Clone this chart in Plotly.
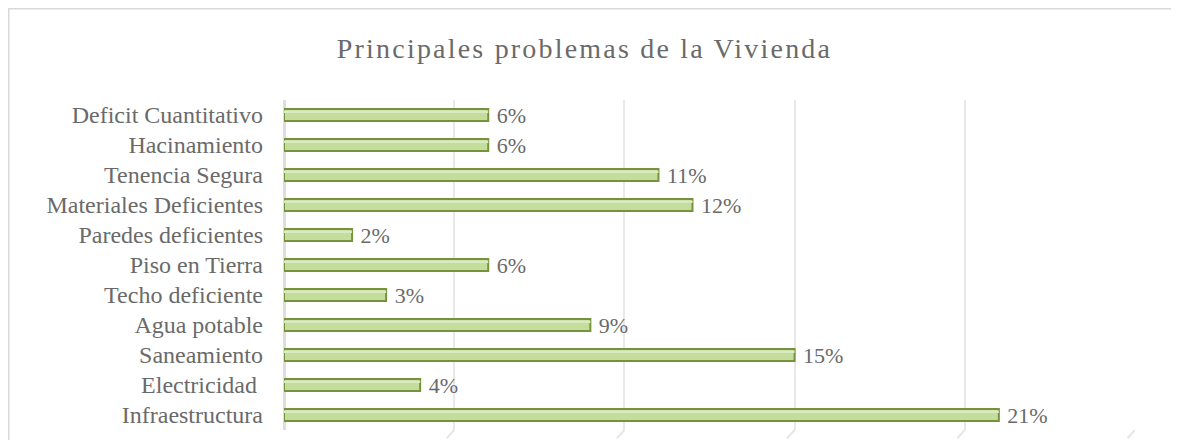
import plotly.graph_objects as go

categories = ["Deficit Cuantitativo", "Hacinamiento", "Tenencia Segura", "Materiales Deficientes",
              "Paredes deficientes", "Piso en Tierra", "Techo deficiente", "Agua potable",
              "Saneamiento", "Electricidad\u00a0", "Infraestructura"]
values = [6, 6, 11, 12, 2, 6, 3, 9, 15, 4, 21]
title_text = "Principales problemas de la Vivienda"
grid_values = [5, 10, 15, 20, 25]

font_family = "Liberation Serif, Times New Roman, serif"
grey = "#6a6a6a"

fig = go.Figure()
fig.add_trace(go.Bar(
    x=values, y=categories, orientation="h",
    marker=dict(color="#c4dd9c", line=dict(color="#76933c", width=2)),
    text=[f"\u00a0{v}%" for v in values], textposition="outside", constraintext="none",
    textfont=dict(family=font_family, size=22, color=grey),
    cliponaxis=False, width=0.4, offset=-0.2,
))
# lighter highlight stripe on the upper face of each bar
fig.add_trace(go.Bar(
    x=values, y=categories, orientation="h",
    marker=dict(color="#d9eac0", line=dict(width=0)),
    width=0.08, offset=0.07, hoverinfo="skip",
))

# short slanted "floor" ends of the gridlines (3D look)
floor = [dict(type="line", xref="x", yref="paper", x0=g, y0=0, x1=g - 0.22, y1=-0.025,
              line=dict(color="#e6e6e6", width=2)) for g in grid_values]

fig.update_layout(
    width=1171, height=432,
    margin=dict(l=276, r=44, t=92, b=10),
    paper_bgcolor="white", plot_bgcolor="white",
    showlegend=False, barmode="overlay",
    title=dict(text=title_text, x=0.5 - 9 / 1171, xref="container", y=1 - 40 / 432, yref="container",
               yanchor="middle", xanchor="center",
               font=dict(family=font_family, size=28, color=grey)),
    xaxis=dict(range=[0, 25], dtick=5, showticklabels=False, showgrid=True,
               gridcolor="#e8e8e8", gridwidth=2, zeroline=True, zerolinecolor="#dedede",
               zerolinewidth=3, ticks=""),
    yaxis=dict(categoryorder="array", categoryarray=categories[::-1], autorange=False,
               range=[-0.5, len(categories) - 0.5], showgrid=False, ticks="",
               ticklabelstandoff=20,
               tickfont=dict(family=font_family, size=24, color=grey)),
    shapes=[dict(type="rect", xref="paper", yref="paper",
                 x0=(0.8 - 276) / 851, x1=1.2, y0=-0.2, y1=(422 - 0.8) / 330,
                 line=dict(color="#d9d9d9", width=1.5), fillcolor="rgba(0,0,0,0)", layer="below")]
           + floor,
)

post = ("var s=document.createElement('style');"
        "s.textContent='.gtitle{letter-spacing:2.2px;}';"
        "document.head.appendChild(s);")
fig.write_html("out.html", post_script=post)
